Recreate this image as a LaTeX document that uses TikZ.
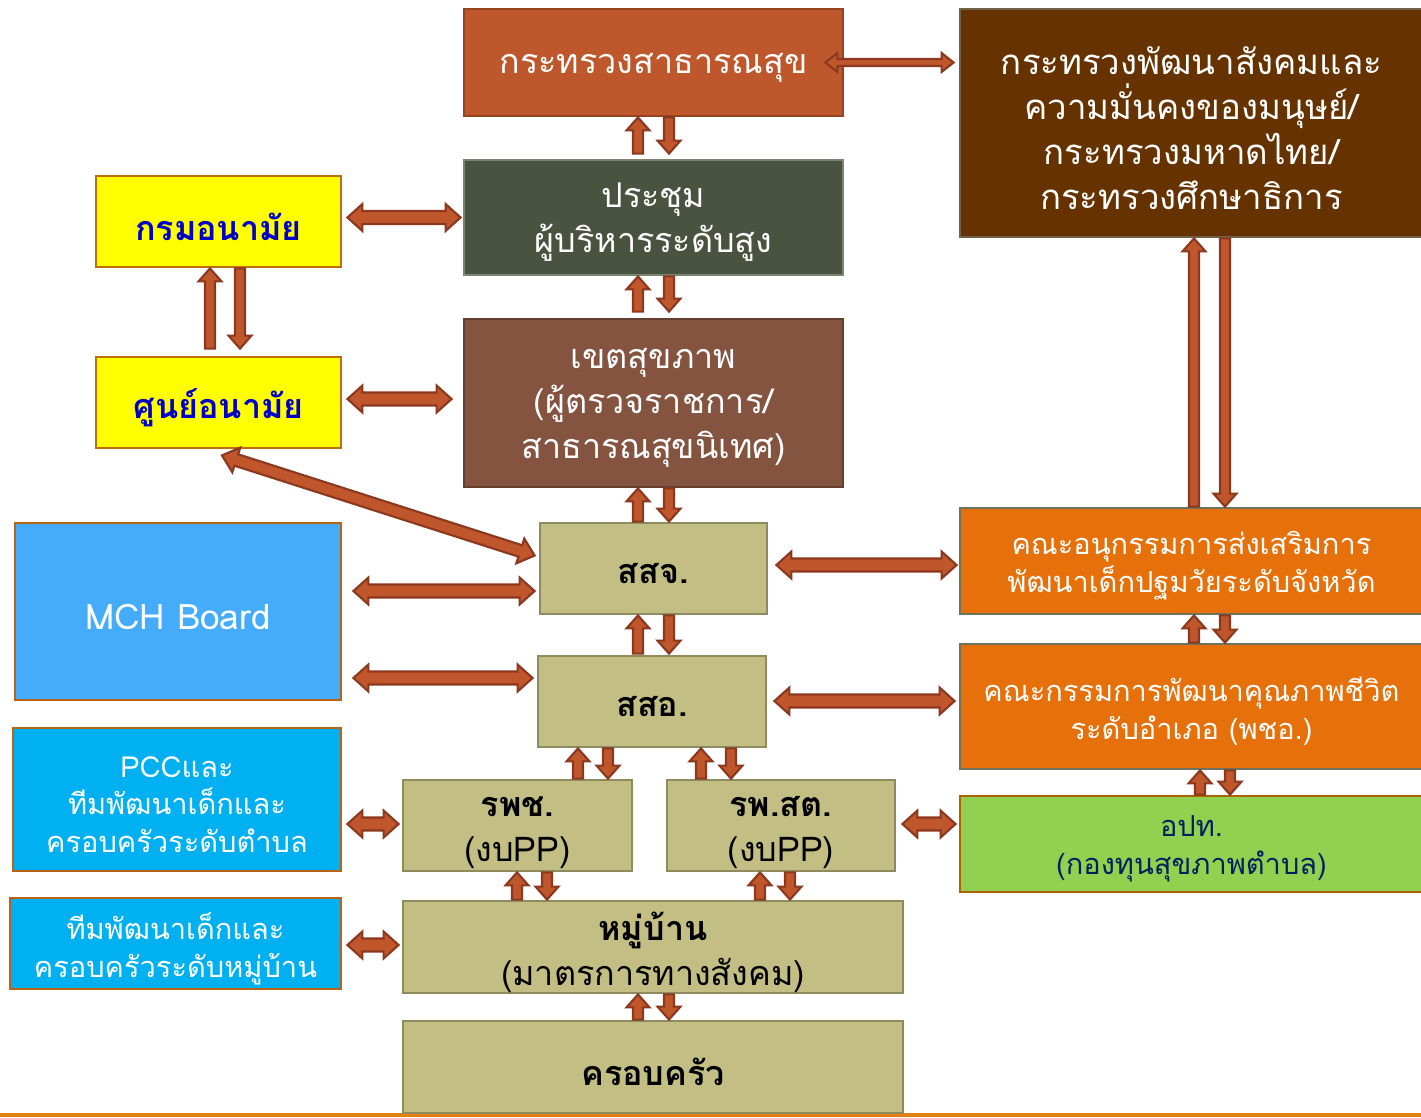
\documentclass[tikz,border=0pt]{standalone}
\usepackage{fontspec}
\setmainfont[Script=Thai]{Loma}
\usetikzlibrary{calc}
\definecolor{cMoph}{RGB}{190,88,44}
\definecolor{cMophD}{RGB}{150,68,32}
\definecolor{cMs}{RGB}{102,51,0}
\definecolor{cMsD}{RGB}{112,98,72}
\definecolor{cMeet}{RGB}{74,82,64}
\definecolor{cMeetD}{RGB}{122,132,112}
\definecolor{cYel}{RGB}{255,255,0}
\definecolor{cYelD}{RGB}{190,110,10}
\definecolor{cBlueT}{RGB}{0,0,200}
\definecolor{cReg}{RGB}{133,84,64}
\definecolor{cRegD}{RGB}{100,62,46}
\definecolor{cKh}{RGB}{195,190,132}
\definecolor{cKhD}{RGB}{142,140,94}
\definecolor{cMch}{RGB}{69,172,252}
\definecolor{cOrD}{RGB}{185,100,20}
\definecolor{cOr}{RGB}{230,112,10}
\definecolor{cOrB}{RGB}{110,115,95}
\definecolor{cCy}{RGB}{0,176,240}
\definecolor{cGr}{RGB}{146,208,80}
\definecolor{cGrD}{RGB}{170,100,0}
\definecolor{cNavy}{RGB}{0,32,96}
\definecolor{cArr}{RGB}{192,86,44}
\definecolor{cArrD}{RGB}{140,56,30}
\definecolor{cLine}{RGB}{226,128,20}
\tikzset{
  box/.style={draw, line width=1.6pt, inner sep=0pt},
  txt/.style={inner sep=0pt, align=center},
  bigtxt/.style={font=\fontsize{19.4}{25.5}\selectfont},
  smalltxt/.style={font=\fontsize{16.5}{21.5}\selectfont},
  barrow/.style={fill=cArr, draw=cArrD, line width=1.2pt, line join=miter},
}
% box: name, x0, y0, x1, y1, box style, text style, text
\newcommand\bx[8]{%
  \node[box,#6,minimum width={(#4-#2)*0.02cm},minimum height={(#5-#3)*0.02cm}] (#1) at ({(#2+#4)/2},{(#3+#5)/2}) {};
  \node[txt,#7] (#1-t) at ($(#1.center)+(0,5)$) {#8};}
% single block arrow: tail, tip, half shaft, half head, head length
\newcommand\blkS[5]{%
  \coordinate (aA) at #1; \coordinate (aB) at #2;
  \coordinate (aH) at ($(aB)!#5!(aA)$);
  \filldraw[barrow] ($(aA)!#3!90:(aB)$) -- ($(aH)!#3!90:(aB)$) -- ($(aH)!#4!90:(aB)$) -- (aB)
    -- ($(aH)!#4!-90:(aB)$) -- ($(aH)!#3!-90:(aB)$) -- ($(aA)!#3!-90:(aB)$) -- cycle;}
% double block arrow
\newcommand\blkD[5]{%
  \coordinate (aA) at #1; \coordinate (aB) at #2;
  \coordinate (aH1) at ($(aA)!#5!(aB)$); \coordinate (aH2) at ($(aB)!#5!(aA)$);
  \filldraw[barrow] (aA) -- ($(aH1)!#4!90:(aB)$) -- ($(aH1)!#3!90:(aB)$) -- ($(aH2)!#3!90:(aB)$)
    -- ($(aH2)!#4!90:(aB)$) -- (aB) -- ($(aH2)!#4!-90:(aB)$) -- ($(aH2)!#3!-90:(aB)$)
    -- ($(aH1)!#3!-90:(aB)$) -- ($(aH1)!#4!-90:(aB)$) -- cycle;}
% vertical pair: top node, bottom node, x offset up, x offset down (from top centre), top gap, bottom gap
\newcommand\vp[6]{%
  \coordinate (ux) at ($(#1.south)+(#3,#5)$);
  \coordinate (dx) at ($(#1.south)+(#4,#5)$);
  \coordinate (uy) at ($(#2.north)+(0,-#6)$);
  \blkS{(ux |- uy)}{(ux)}{0.1cm}{0.23cm}{0.26cm}
  \blkS{(dx)}{(dx |- uy)}{0.1cm}{0.23cm}{0.26cm}}
\newcommand\hd[2]{\blkD{#1}{#2}{0.13cm}{0.27cm}{0.3cm}}
\begin{document}
\begin{tikzpicture}[x=0.02cm,y=-0.02cm]
\useasboundingbox (0,0) rectangle (1421,1117);
\fill[white] (0,0) rectangle (1421,1117);
\fill[cLine] (0,1113) rectangle (1421,1117);
% boxes
\bx{moph}{464}{9}{843}{116}{fill=cMoph,draw=cMophD}{bigtxt,text=white}{กระทรวงสาธารณสุข}
\bx{msdhs}{960}{9}{1423}{237}{fill=cMs,draw=cMsD}{font=\fontsize{19.8}{25.5}\selectfont,text=white}{กระทรวงพัฒนาสังคมและ\\ความมั่นคงของมนุษย์/\\กระทรวงมหาดไทย/\\กระทรวงศึกษาธิการ}
\bx{meet}{464}{160}{843}{275}{fill=cMeet,draw=cMeetD}{bigtxt,text=white}{ประชุม\\ผู้บริหารระดับสูง}
\bx{dept}{96}{176}{341}{267}{fill=cYel,draw=cYelD}{bigtxt,text=cBlueT}{\bfseries กรมอนามัย}
\bx{hc}{96}{357}{341}{448}{fill=cYel,draw=cYelD}{bigtxt,text=cBlueT}{\bfseries ศูนย์อนามัย}
\bx{reg}{464}{319}{843}{487}{fill=cReg,draw=cRegD}{bigtxt,text=white}{เขตสุขภาพ\\(ผู้ตรวจราชการ/\\สาธารณสุขนิเทศ)}
\bx{pho}{540}{523}{767}{614}{fill=cKh,draw=cKhD}{bigtxt,text=black}{\bfseries สสจ.}
\bx{mch}{15}{523}{341}{700}{fill=cMch,draw=cOrD}{font=\fontsize{20}{24}\selectfont,text=white}{MCH Board}
\bx{sub}{960}{508}{1423}{614}{fill=cOr,draw=cOrB}{smalltxt,text=white}{คณะอนุกรรมการส่งเสริมการ\\พัฒนาเด็กปฐมวัยระดับจังหวัด}
\bx{dho}{538}{656}{766}{747}{fill=cKh,draw=cKhD}{bigtxt,text=black}{\bfseries สสอ.}
\bx{dhb}{960}{644}{1423}{769}{fill=cOr,draw=cOrB}{smalltxt,text=white}{คณะกรรมการพัฒนาคุณภาพชีวิต\\ระดับอำเภอ (พชอ.)}
\bx{pcc}{13}{728}{341}{871}{fill=cCy,draw=cOrD}{smalltxt,text=white}{PCCและ\\ทีมพัฒนาเด็กและ\\ครอบครัวระดับตำบล}
\bx{hosp}{403}{780}{632}{871}{fill=cKh,draw=cKhD}{bigtxt,text=black,yshift=-0.04cm}{\textbf{รพช.}\\(งบPP)}
\bx{tam}{667}{780}{895}{871}{fill=cKh,draw=cKhD}{bigtxt,text=black,yshift=-0.04cm}{\textbf{รพ.สต.}\\(งบPP)}
\bx{lao}{960}{796}{1423}{892}{fill=cGr,draw=cGrD}{smalltxt,text=cNavy}{อปท.\\(กองทุนสุขภาพตำบล)}
\bx{vteam}{10}{898}{341}{989}{fill=cCy,draw=cOrD}{smalltxt,text=white}{ทีมพัฒนาเด็กและ\\ครอบครัวระดับหมู่บ้าน}
\bx{vil}{403}{901}{903}{993}{fill=cKh,draw=cKhD}{bigtxt,text=black}{\textbf{หมู่บ้าน}\\(มาตรการทางสังคม)}
\bx{fam}{403}{1021}{903}{1113}{fill=cKh,draw=cKhD}{bigtxt,text=black}{\bfseries ครอบครัว}
% vertical arrow pairs
\vp{moph}{meet}{-15.5}{15.5}{0}{5}
\vp{meet}{reg}{-15.5}{15.5}{0}{6}
\vp{reg}{pho}{-15.5}{15.5}{0}{0}
\vp{pho}{dho}{-15.5}{15.5}{0}{1}
\vp{dept}{hc}{-8.5}{21.5}{0}{7}
\vp{msdhs}{sub}{2.5}{33.5}{0}{0}
\vp{sub}{dhb}{2.5}{33.5}{0}{0}
\vp{dhb}{lao}{8.5}{38.5}{0}{0}
\vp{dho}{hosp}{-74}{-44}{0}{0}
\vp{dho}{tam}{49}{79}{0}{0}
\vp{hosp}{vil}{-0.5}{29.5}{0}{0}
\vp{tam}{vil}{-21}{9}{0}{0}
\vp{vil}{fam}{-15}{16}{0}{0}
% horizontal / diagonal double arrows
\blkD{($(moph.east)+(-19,0)$)}{($(moph.east -| msdhs.west)+(-5,0)$)}{0.07cm}{0.19cm}{0.24cm}
\hd{($(meet.west -| dept.east)+(5,0)$)}{($(meet.west)+(-2,0)$)}
\hd{($(hc.east)+(5,-3.5)$)}{($(hc.east -| reg.west)+(-11,-3.5)$)}
\blkD{($(hc.south)+(3.5,6)$)}{($(pho.west)+(-4,-13)$)}{0.12cm}{0.26cm}{0.3cm}
\hd{($(mch.east)+(11,-20.5)$)}{($(mch.east -| pho.west)+(-4,-20.5)$)}
\hd{($(pho.east)+(8,-3.5)$)}{($(pho.east -| sub.west)+(-2,-3.5)$)}
\hd{($(dho.west -| mch.east)+(11,-23.5)$)}{($(dho.west)+(-4,-23.5)$)}
\hd{($(dho.east)+(7,-0.5)$)}{($(dho.east -| dhb.west)+(-4,-0.5)$)}
\hd{($(hosp.west -| pcc.east)+(5,-1.5)$)}{($(hosp.west)+(-3,-1.5)$)}
\hd{($(tam.east)+(6,-1.5)$)}{($(tam.east -| lao.west)+(-3,-1.5)$)}
\hd{($(vil.west -| vteam.east)+(5,-2)$)}{($(vil.west)+(-3,-2)$)}
\end{tikzpicture}
\end{document}
